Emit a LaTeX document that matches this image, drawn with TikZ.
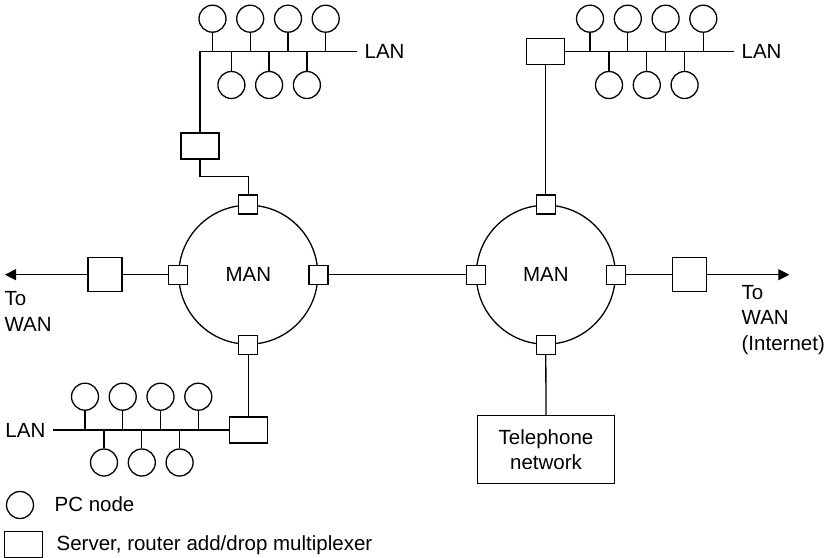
\documentclass[tikz,border=0pt]{standalone}
\usepackage{fontspec}
\setmainfont{Liberation Sans}
\usetikzlibrary{arrows.meta}
\begin{document}
\begin{tikzpicture}[x=1pt,y=-1pt, line width=1.3pt,
  font=\fontsize{20.5}{25.5}\selectfont,
  pc/.style={circle,draw,minimum size=27pt,inner sep=0pt},
  port/.style={rectangle,draw,fill=white,minimum size=19pt,inner sep=0pt},
  srv/.style={rectangle,draw,fill=white,minimum width=38pt,minimum height=26pt,inner sep=0pt},
  wanbox/.style={rectangle,draw,fill=white,minimum size=34pt,inner sep=0pt},
  ring/.style={circle,draw,minimum size=139pt,inner sep=0pt},
  lbl/.style={inner sep=0pt,align=left},
  tip/.style={-{Triangle[length=11pt,width=11pt]}}]
\useasboundingbox (0,0) rectangle (829,557);

% ---- MAN rings
\node[ring] (manL) at (248.3,274.7) {MAN};
\node[ring] (manR) at (545.8,274.7) {MAN};
\node[port] (pLn) at (manL.north) {};
\node[port] (pLs) at (manL.south) {};
\node[port] (pLw) at (manL.west) {};
\node[port] (pLe) at (manL.east) {};
\node[port] (pRn) at (manR.north) {};
\node[port] (pRs) at (manR.south) {};
\node[port] (pRw) at (manR.west) {};
\node[port] (pRe) at (manR.east) {};

% ---- WAN links
\node[wanbox] (wanL) at (105,274.7) {};
\node[wanbox] (wanR) at (689.3,274.7) {};
\coordinate (tipL) at (5,274.7);
\coordinate (tipR) at (789.3,274.7);
\draw (pLw.west) -- (wanL.east);
\draw[tip] (wanL.west) -- (tipL);
\draw (pRe.east) -- (wanR.west);
\draw[tip] (wanR.east) -- (tipR);
\draw (pLe.east) -- (pRw.west);
\node[lbl,anchor=west] (toL) at (4,311.5) {To\\WAN};
\node[lbl,anchor=west] (toR) at (741,320) {To\\WAN\\(Internet)};

% ---- Top-left LAN
\node[srv] (srvA) at (200,146) {};
\coordinate (busA) at (200,51.7);
\coordinate (busAend) at (356.7,51.7);
\coordinate (bendA) at (200,176.7);
\draw (srvA.north) -- (busA) -- (busAend);
\draw (srvA.south) -- (bendA) -| (pLn.north);
\foreach \i/\x in {1/212.5,2/250.2,3/288,4/325.7} {
  \node[pc] (a\i) at (\x,18.7) {};
  \draw (a\i.south) -- (a\i.south |- busA);
}
\foreach \i/\x in {5/231.4,6/269.1,7/306.9} {
  \node[pc] (a\i) at (\x,85) {};
  \draw (a\i.north) -- (a\i.north |- busA);
}
\node[lbl,anchor=west] (lanA) at (364,51.7) {LAN};

% ---- Top-right LAN
\node[srv] (srvB) at (545.8,51.7) {};
\coordinate (busBend) at (734.3,51.7);
\draw (srvB.east) -- (busBend);
\draw (srvB.south) -- (pRn.north);
\foreach \i/\x in {1/590,2/627.8,3/665.6,4/703.3} {
  \node[pc] (b\i) at (\x,18.7) {};
  \draw (b\i.south) -- (b\i.south |- busBend);
}
\foreach \i/\x in {5/609,6/646.8,7/684.6} {
  \node[pc] (b\i) at (\x,85) {};
  \draw (b\i.north) -- (b\i.north |- busBend);
}
\node[lbl,anchor=west] (lanB) at (741,51.7) {LAN};

% ---- Bottom-left LAN
\node[srv] (srvC) at (248.3,430) {};
\coordinate (busC) at (53.3,430);
\draw (busC) -- (srvC.west);
\draw (srvC.north) -- (pLs.south);
\foreach \i/\x in {1/85,2/122.7,3/160.5,4/198.3} {
  \node[pc] (c\i) at (\x,396.7) {};
  \draw (c\i.south) -- (c\i.south |- busC);
}
\foreach \i/\x in {5/104,6/141.8,7/179.6} {
  \node[pc] (c\i) at (\x,462.5) {};
  \draw (c\i.north) -- (c\i.north |- busC);
}
\node[lbl,anchor=east] (lanC) at (46,430) {LAN};

% ---- Telephone network
\node[draw,minimum width=136.6pt,minimum height=67.7pt,inner sep=0pt,align=center] (tel) at (546,449.5) {Telephone\\network};
\draw (pRs.south) -- (tel.north);

% ---- Legend
\node[pc] (legpc) at (20,505) {};
\node[lbl,anchor=west] (legpct) at (54,504) {PC node};
\node[srv] (legsrv) at (23.2,544.7) {};
\node[lbl,anchor=west] (legsrvt) at (56,545) {Server, router add/drop multiplexer};
\end{tikzpicture}
\end{document}
